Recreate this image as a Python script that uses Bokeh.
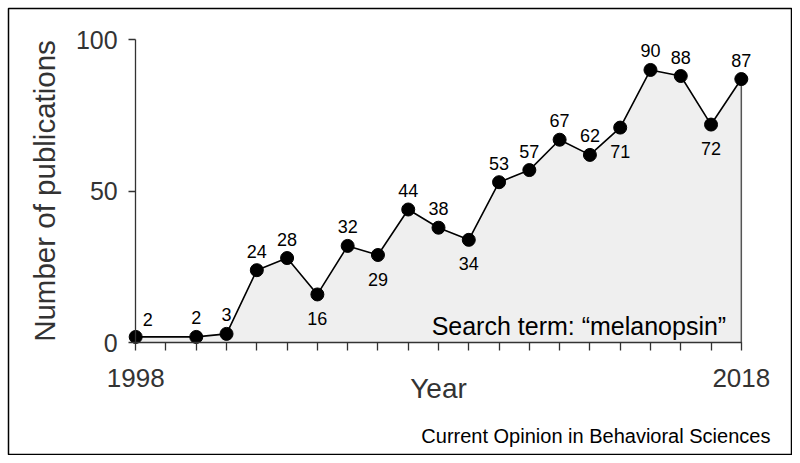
from bokeh.plotting import figure
from bokeh.models import ColumnDataSource, FixedTicker, Label, LabelSet
from bokeh.core.properties import value
from bokeh.embed import file_html
from bokeh.resources import INLINE

# ---- data ----
years = [1998, 2000, 2001, 2002, 2003, 2004, 2005, 2006, 2007, 2008,
         2009, 2010, 2011, 2012, 2013, 2014, 2015, 2016, 2017, 2018]
counts = [2, 2, 3, 24, 28, 16, 32, 29, 44, 38,
          34, 53, 57, 67, 62, 71, 90, 88, 72, 87]
x_ticks = list(range(1998, 2019))
x_tick_labels = {1998: "1998", 2018: "2018"}
y_ticks = [0, 50, 100]
annotation_text = "Search term: \u201cmelanopsin\u201d"
credit_text = "Current Opinion in Behavioral Sciences"

# ---- label placement (style) ----
label_side = ["right", "above", "above", "above", "above", "below", "above", "below",
              "above", "above", "below", "above", "above", "above", "above", "below",
              "above", "above", "below", "above"]
xo_map = {"right": 12, "above": 0, "below": 0}
yo_map = {"right": 17, "above": 19, "below": -24}

FONT = "Liberation Sans"

src = ColumnDataSource(dict(
    year=years,
    count=counts,
    base=[0] * len(years),
    label=[str(c) for c in counts],
    xo=[xo_map[s] for s in label_side],
    yo=[yo_map[s] for s in label_side],
))

p = figure(width=792, height=455,
           x_range=(1993.80, 2019.69), y_range=(-37.09, 110.26),
           output_backend="svg", toolbar_location=None,
           min_border_left=8, min_border_top=8, min_border_right=0, min_border_bottom=0)
p.outline_line_color = "black"
p.outline_line_width = 1.5
p.background_fill_color = "white"
p.border_fill_color = "white"
p.xgrid.visible = False
p.ygrid.visible = False

# shaded area under the curve
p.varea(x="year", y1="base", y2="count", source=src, fill_color="#efefef")
p.segment(x0=[years[-1]], y0=[0], x1=[years[-1]], y1=[counts[-1]],
          line_color="#555555", line_width=1.5)

p.line(x="year", y="count", source=src, line_color="black", line_width=1.6)
p.scatter(x="year", y="count", source=src, size=13, fill_color="black", line_color="black")

labels = LabelSet(x="year", y="count", text="label", source=src,
                  x_offset="xo", y_offset="yo",
                  text_align="center", text_baseline="middle",
                  text_font=value(FONT), text_font_size="18px", text_color="black")
p.add_layout(labels)

# axes
xa = p.xaxis[0]
xa.fixed_location = 0
xa.bounds = (1998, 2018)
xa.ticker = FixedTicker(ticks=x_ticks)
xa.major_label_overrides = {t: x_tick_labels.get(t, "") for t in x_ticks}
xa.major_tick_out = 8
xa.major_tick_in = 0
xa.minor_tick_out = 0
xa.minor_tick_in = 0
xa.major_label_standoff = 18
xa.major_label_text_font = FONT
xa.major_label_text_font_size = "26px"
xa.major_label_text_color = "#333333"
xa.axis_line_color = "#333333"
xa.axis_line_width = 1.3
xa.major_tick_line_color = "#333333"
xa.major_tick_line_width = 1.3
xa.axis_label = "Year"
xa.axis_label_text_font = FONT
xa.axis_label_text_font_size = "28px"
xa.axis_label_text_font_style = "normal"
xa.axis_label_text_color = "#333333"
xa.axis_label_standoff = -17

ya = p.yaxis[0]
ya.fixed_location = 1998
ya.bounds = (0, 100)
ya.ticker = FixedTicker(ticks=y_ticks)
ya.major_tick_out = 7
ya.major_tick_in = 0
ya.minor_tick_out = 0
ya.minor_tick_in = 0
ya.major_label_standoff = 11
ya.major_label_text_font = FONT
ya.major_label_text_font_size = "25px"
ya.major_label_text_color = "#333333"
ya.axis_line_color = "#333333"
ya.axis_line_width = 1.3
ya.major_tick_line_color = "#333333"
ya.major_tick_line_width = 1.3
ya.axis_label = "Number of publications"
ya.axis_label_text_font = FONT
ya.axis_label_text_font_size = "29.5px"
ya.axis_label_text_font_style = "normal"
ya.axis_label_text_color = "#333333"
ya.axis_label_standoff = 12

p.add_layout(Label(x=2017.5, y=5.6, text=annotation_text, text_align="right",
                   text_baseline="alphabetic", text_font=FONT,
                   text_font_size="25px", text_color="black"))
p.add_layout(Label(x=2018.96, y=-30.8, text=credit_text, text_align="right",
                   text_baseline="alphabetic", text_font=FONT,
                   text_font_size="20px", text_color="black"))

open("out.html", "w").write(file_html(p, INLINE))
